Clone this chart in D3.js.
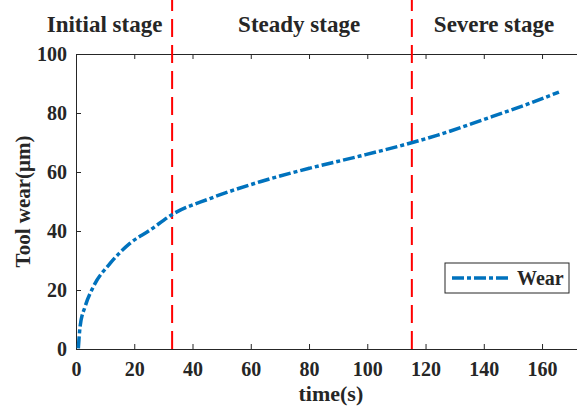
<!DOCTYPE html>
<html>
<head>
<meta charset="utf-8">
<script src="https://cdn.jsdelivr.net/npm/d3@7"></script>
<style>
  body { margin: 0; background: #fff; }
  svg { display: block; }
  text { font-family: "Liberation Serif", "Times New Roman", serif; font-weight: bold; fill: #262626; }
</style>
</head>
<body>
<svg id="chart" width="577" height="407"></svg>
<script>
// curve
const timeS = [0.8, 1.4, 3.1, 5.9, 11.7, 18.5, 25.4, 33.2, 46, 63.2, 80.3, 97.5, 115.5, 124.2, 140, 155, 165.8];
const wearUm = [0.2, 7.6, 14.3, 21, 29, 35.8, 40.3, 45.7, 51, 56.7, 61.3, 65.4, 70, 72.5, 77.8, 83, 87.1];
const stageBounds = [33, 115.3];
const stageNames = ["Initial stage", "Steady stage", "Severe stage"];
const xTicks = [0, 20, 40, 60, 80, 100, 120, 140, 160];
const yTicks = [0, 20, 40, 60, 80, 100];

var width = 577, height = 407;
var margin = { top: 54, right: 0, bottom: 58, left: 76 };
const svg = d3.select("#chart");

var x = d3.scaleLinear().domain([0, 172]).range([margin.left, width - margin.right]);
var y = d3.scaleLinear().domain([0, 100]).range([height - margin.bottom, margin.top]);

var axisColor = "#262626";

// axes
var xAxis = g => g
  .attr("transform", `translate(0,${y(0)})`)
  .call(d3.axisBottom(x).tickValues(xTicks).tickSizeInner(-5).tickSizeOuter(0).tickPadding(13))
  .call(g => g.selectAll("text").attr("font-size", 20));
var xTop = g => g
  .attr("transform", `translate(0,${y(100)})`)
  .call(d3.axisTop(x).tickValues(xTicks).tickSizeInner(-5).tickSizeOuter(0).tickFormat(""));
var yAxis = g => g
  .attr("transform", `translate(${x(0)},0)`)
  .call(d3.axisLeft(y).tickValues(yTicks).tickSizeInner(-5).tickSizeOuter(0).tickPadding(9))
  .call(g => g.selectAll("text").attr("font-size", 20));

[xAxis, xTop, yAxis].forEach(a => {
  const g = svg.append("g").call(a);
  g.selectAll(".domain, line").attr("stroke", axisColor).attr("stroke-width", 1);
  g.selectAll("text").attr("fill", axisColor).attr("font-family", null);
});

// stage boundaries
svg.append("g")
  .selectAll("line")
  .data(stageBounds)
  .join("line")
  .attr("x1", d => x(d)).attr("x2", d => x(d))
  .attr("y1", y(0)).attr("y2", y(100) - margin.top)
  .attr("stroke", "#ff0000")
  .attr("stroke-width", 2)
  .attr("stroke-dasharray", "18,8");

// stage titles, centred a bit left of each region like the original
var titleX = [9.8, 76.6, 143.5];
svg.append("g")
  .selectAll("text")
  .data(stageNames)
  .join("text")
  .attr("x", (d, i) => x(titleX[i]))
  .attr("y", 32)
  .attr("text-anchor", "middle")
  .attr("font-size", 23)
  .text(d => d);

// wear curve
var line = d3.line()
  .x(d => x(d[0]))
  .y(d => y(d[1]))
  .curve(d3.curveMonotoneX);
svg.append("path")
  .datum(timeS.map((t, i) => [t, wearUm[i]]))
  .attr("fill", "none")
  .attr("stroke", "#0072bd")
  .attr("stroke-width", 3.5)
  .attr("stroke-dasharray", "12,3,4,3")
  .attr("d", line);

// axis labels
svg.append("text")
  .attr("x", x(87.5))
  .attr("y", 401)
  .attr("text-anchor", "middle")
  .attr("font-size", 22)
  .text("time(s)");
svg.append("text")
  .attr("transform", `translate(30,${(y(0) + y(100)) / 2}) rotate(-90)`)
  .attr("text-anchor", "middle")
  .attr("font-size", 21)
  .text("Tool wear(μm)");

// legend
var legend = svg.append("g").attr("transform", "translate(445,263)");
legend.append("rect")
  .attr("width", 124).attr("height", 30)
  .attr("fill", "#fff")
  .attr("stroke", axisColor).attr("stroke-width", 1);
legend.append("line")
  .attr("x1", 7).attr("x2", 66).attr("y1", 15).attr("y2", 15)
  .attr("stroke", "#0072bd").attr("stroke-width", 3.5)
  .attr("stroke-dasharray", "12,3,4,3");
legend.append("text")
  .attr("x", 72).attr("y", 22)
  .attr("font-size", 20)
  .text("Wear");
</script>
</body>
</html>
